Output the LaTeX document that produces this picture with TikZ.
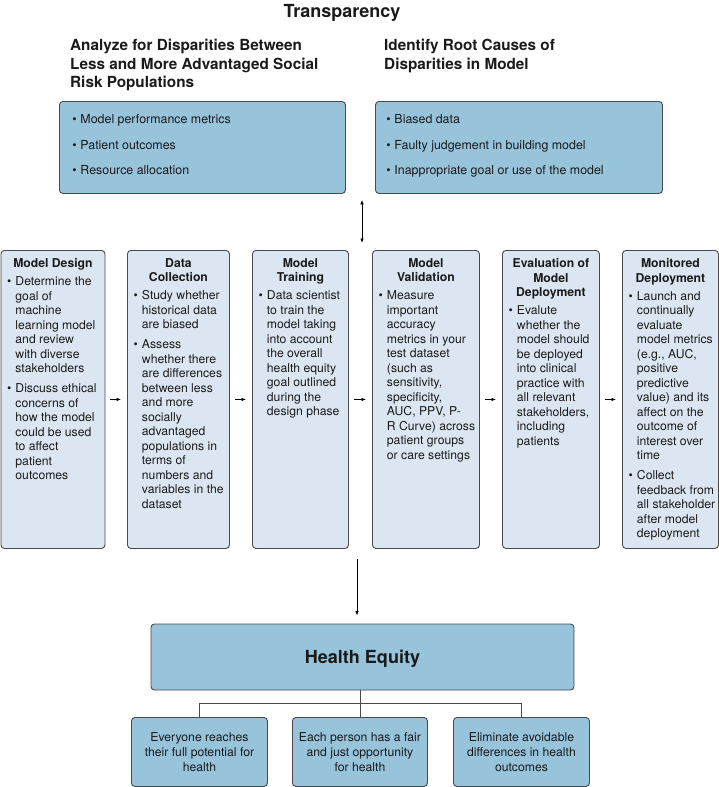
\documentclass[tikz,border=0pt]{standalone}
\usepackage{fontspec}
\setmainfont{TeX Gyre Heros}
\usetikzlibrary{arrows.meta}
\definecolor{topfill}{HTML}{97C3DB}
\definecolor{stagefill}{HTML}{DCE6F2}
\definecolor{edge}{HTML}{4A4A4A}
\definecolor{ink}{HTML}{1A1A1A}

\newenvironment{blist}{\begin{list}{\textbullet}{\setlength\leftmargin{8.5pt}\setlength\labelsep{4pt}\setlength\labelwidth{4.5pt}\setlength\itemsep{5.5pt}\setlength\parsep{0pt}\setlength\topsep{3.5pt}\setlength\partopsep{0pt}\setlength\itemindent{0pt}\setlength\listparindent{0pt}}\raggedright}{\end{list}}
\newenvironment{tlist}{\begin{list}{\textbullet}{\setlength\leftmargin{8pt}\setlength\labelsep{3.7pt}\setlength\labelwidth{4.3pt}\setlength\itemsep{10.8pt}\setlength\parsep{0pt}\setlength\topsep{0pt}\setlength\partopsep{0pt}\setlength\itemindent{0pt}\setlength\listparindent{0pt}}\raggedright}{\end{list}}

% stage content: #1 width, #2 heading, #3 items
\newcommand{\stg}[3]{\makebox[#1pt][l]{\hspace*{6pt}\begin{minipage}[t][298pt][t]{#1pt}\fontsize{12.2}{14.5}\selectfont\vspace*{8pt}{\centering\leftskip=0pt plus 1fil\rightskip=12pt plus 1fil\bfseries #2\par}\begin{blist}#3\end{blist}\end{minipage}}}
% top content: #1 width, #2 left pad, #3 items
\newcommand{\topc}[3]{\makebox[#1pt][l]{\hspace*{#2pt}\begin{minipage}[t][92pt][t]{#1pt}\fontsize{12.4}{14.9}\selectfont\vspace*{13pt}\begin{tlist}#3\end{tlist}\end{minipage}}}

\tikzset{
  box/.style={draw=edge, line width=0.9pt, rounded corners=3.5pt, inner sep=0pt, anchor=north west, text=ink},
  stagebox/.style={box, fill=stagefill},
  topbox/.style={box, fill=topfill},
  arr/.style={-{Latex[length=4.5pt,width=3.6pt]}, line width=0.8pt, draw=black},
  darr/.style={{Latex[length=4.5pt,width=3.6pt]}-{Latex[length=4.5pt,width=3.6pt]}, line width=0.8pt, draw=black},
  treeline/.style={draw=edge, line width=0.9pt},
  head/.style={font=\fontsize{15.3}{18.5}\selectfont\bfseries, align=left, inner sep=0pt, anchor=north west, text=ink},
  leaf/.style={topbox, align=center, minimum height=69pt, font=\fontsize{12.2}{14.7}\selectfont}
}

\begin{document}
\begin{tikzpicture}[x=1pt,y=-1pt]
\useasboundingbox (0,0) rectangle (719,787);

% title and headings
\node[font=\fontsize{18}{21}\selectfont\bfseries, anchor=base, inner sep=0pt, text=ink] (title) at (342,17.5) {Transparency};
\node[head] (h1) at (70,39) {Analyze for Disparities Between\\Less and More Advantaged Social\\Risk Populations};
\node[head] (h2) at (384,39) {Identify Root Causes of\\Disparities in Model};

% top boxes
\node[topbox] (t1) at (59,101) {\topc{286}{13}{\item Model performance metrics \item Patient outcomes \item Resource allocation}};
\node[topbox] (t2) at (375,101) {\topc{287}{11}{\item Biased data \item Faulty judgement in building model \item Inappropriate goal or use of the model}};

% stage boxes
\node[stagebox] (s1) at (0.5,250) {\stg{104}{Model Design}{\item Determine the\newline goal of\newline machine\newline learning model\newline and review\newline with diverse\newline stakeholders \item Discuss ethical\newline concerns of\newline how the model\newline could be used\newline to affect\newline patient\newline outcomes}};
\node[stagebox] (s2) at (127,250) {\stg{102}{Data\\Collection}{\item Study whether\newline historical data\newline are biased \item Assess\newline whether there\newline are differences\newline between less\newline and more\newline socially\newline advantaged\newline populations in\newline terms of\newline numbers and\newline variables in the\newline dataset}};
\node[stagebox] (s3) at (252,250) {\stg{96}{Model\\Training}{\item Data scientist\newline to train the\newline model taking\newline into account\newline the overall\newline health equity\newline goal outlined\newline during the\newline design phase}};
\node[stagebox] (s4) at (372,250) {\stg{107}{Model\\Validation}{\item Measure\newline important\newline accuracy\newline metrics in your\newline test dataset\newline (such as\newline sensitivity,\newline specificity,\newline AUC, PPV, P-\newline R Curve) across\newline patient groups\newline or care settings}};
\node[stagebox] (s5) at (502,250) {\stg{97}{Evaluation of\\Model\\Deployment}{\item Evalute\newline whether the\newline model should\newline be deployed\newline into clinical\newline practice with\newline all relevant\newline stakeholders,\newline including\newline patients}};
\node[stagebox] (s6) at (622,250) {\stg{96}{Monitored\\Deployment}{\item Launch and\newline continually\newline evaluate\newline model metrics\newline (e.g., AUC,\newline positive\newline predictive\newline value) and its\newline affect on the\newline outcome of\newline interest over\newline time \item Collect\newline feedback from\newline all stakeholder\newline after model\newline deployment}};

% health equity
\node[topbox, anchor=center, minimum width=423pt, minimum height=66pt, font=\fontsize{18}{21}\selectfont\bfseries, text depth=0pt] (he) at (362.5,657) {Health Equity};
\node[leaf, minimum width=136pt] (b1) at (131,717) {Everyone reaches\\their full potential for\\health};
\node[leaf, minimum width=135pt] (b2) at (292,717) {Each person has a fair\\and just opportunity\\for health};
\node[leaf, minimum width=136pt] (b3) at (453,717) {Eliminate avoidable\\differences in health\\outcomes};

% connectors
\coordinate (tx) at (362,0);
\coordinate (dx) at (357,0);
\coordinate (jn) at (360,703);
\draw[darr] ([yshift=-6pt]t2.south west -| tx) -- ([yshift=7pt]s4.north west -| tx);
\draw[arr] ([xshift=5pt]s1.east) -- ([xshift=-6pt]s2.west);
\draw[arr] ([xshift=5pt]s2.east) -- ([xshift=-6pt]s3.west);
\draw[arr] ([xshift=5pt]s3.east) -- ([xshift=-6pt]s4.west);
\draw[arr] ([xshift=5pt]s4.east) -- ([xshift=-6pt]s5.west);
\draw[arr] ([xshift=5pt]s5.east) -- ([xshift=-6pt]s6.west);
\draw[arr] ([yshift=-10pt]s3.south -| dx) -- ([yshift=8pt]he.north -| dx);
\draw[treeline] (he.south -| jn) -- (b2.north -| jn);
\draw[treeline] (b1.north) -- (b1.north |- jn) -- (b3.north |- jn) -- (b3.north);
\end{tikzpicture}
\end{document}
